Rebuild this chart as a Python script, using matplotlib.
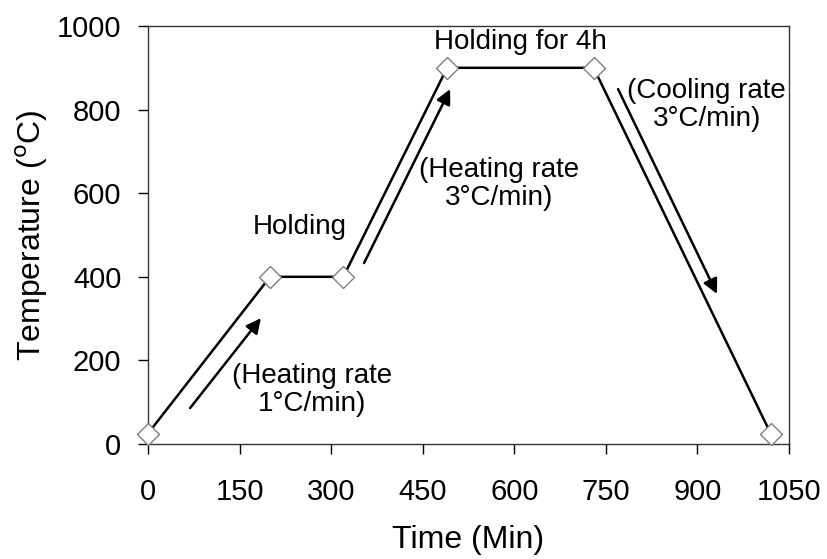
import matplotlib
matplotlib.use("Agg")
import matplotlib.pyplot as plt

plt.rcParams['font.family'] = ['Liberation Sans', 'DejaVu Sans']
plt.rcParams['xtick.major.pad'] = 17
plt.rcParams['ytick.major.pad'] = 12
plt.rcParams['xtick.major.size'] = 7.2
plt.rcParams['ytick.major.size'] = 7.2

# Data
time_min = [0, 200, 320, 490, 730, 1020]
temperature = [25, 400, 400, 900, 900, 25]

x_ticks = [0, 150, 300, 450, 600, 750, 900, 1050]
y_ticks = [0, 200, 400, 600, 800, 1000]

# Arrows: (start, end) in data coordinates
arrows = [
    ((69, 86), (185, 301)),
    ((354, 433), (495, 849)),
    ((770, 849), (932, 359)),
]

# Annotations: (text, x, y)
labels = [
    ("Holding", 248, 518),
    ("Holding for 4h", 610, 962),
    ("(Heating rate\n3\u00b0C/min)", 575, 622),
    ("(Cooling rate\n3\u00b0C/min)", 915, 812),
    ("(Heating rate\n1\u00b0C/min)", 268, 130),
]

fig = plt.figure(figsize=(8.28, 5.59), dpi=100)
ax = fig.add_axes([0.1787, 0.2057, 0.9529 - 0.1787, 0.9535 - 0.2057])

ax.plot(time_min, temperature, color='black', lw=1.8, marker='D',
        markersize=11, markerfacecolor='white', markeredgecolor='#7f7f7f',
        markeredgewidth=1.0, zorder=3, clip_on=False)

for (s, e) in arrows:
    ax.annotate('', xy=e, xytext=s,
                arrowprops=dict(arrowstyle='-|>', color='black', lw=1.8,
                                mutation_scale=22, shrinkA=0, shrinkB=0))

for (t, x, y) in labels:
    ax.text(x, y, t, ha='center', va='center', fontsize=20,
            linespacing=1.1)

ax.set_xlim(0, 1050)
ax.set_ylim(0, 1000)
ax.set_xticks(x_ticks)
ax.set_yticks(y_ticks)
ax.tick_params(axis='both', direction='out', width=1,
               labelsize=21, colors='black')
for sp in ax.spines.values():
    sp.set_linewidth(1.0)
    sp.set_color('#333333')

ax.set_xlabel('Time (Min)', fontsize=23)
ax.set_ylabel(r'Temperature ($^{\rm o}$C)', fontsize=23)
ax.xaxis.set_label_coords(0.5, (444 - 540) / 418)
ax.yaxis.set_label_coords((32 - 148) / 641, 0.5)
ax.xaxis.label.set_va('center')
ax.yaxis.label.set_va('center')

fig.savefig('out.png', dpi=100)
